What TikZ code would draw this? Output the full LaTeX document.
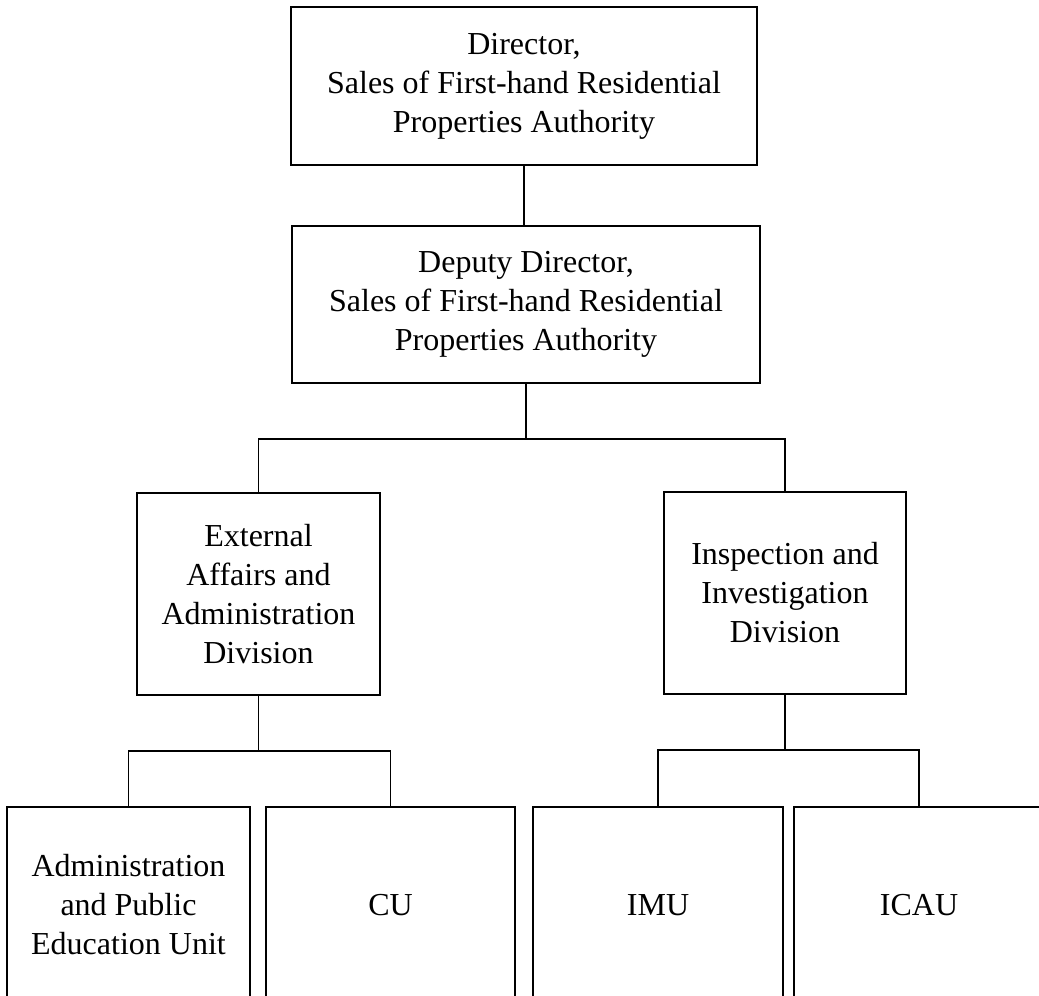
\documentclass[tikz,border=0pt]{standalone}
\usepackage{fontspec}
\setmainfont{Liberation Serif}
\begin{document}
\begin{tikzpicture}[x=1pt,y=-1pt,
  box/.style={draw=black, line width=1.6pt, rectangle, align=center, inner sep=0pt,
    font=\fontsize{32}{39}\selectfont},
  link/.style={draw=black, line width=1.6pt}]
\useasboundingbox (0,0) rectangle (1039,996);
\clip (0,0) rectangle (1039,996);
\fill[white] (0,0) rectangle (1039,996);
\node[box, minimum width=466pt, minimum height=158pt] (dir) at (524,86)
  {Director,\\Sales of First-hand Residential\\Properties Authority};
\node[box, minimum width=468pt, minimum height=157pt] (dep) at (526,304.5)
  {Deputy Director,\\Sales of First-hand Residential\\Properties Authority};
\node[box, minimum width=243pt, minimum height=202pt] (ext) at (258.5,594)
  {External\\Affairs and\\Administration\\Division};
\node[box, minimum width=242pt, minimum height=202pt] (insp) at (785,593)
  {Inspection and\\Investigation\\Division};
\node[box, minimum width=243pt, minimum height=196pt] (adm) at (128.5,905)
  {Administration\\and Public\\Education Unit};
\node[box, minimum width=249pt, minimum height=196pt] (cu) at (390.5,905) {CU};
\node[box, minimum width=250pt, minimum height=196pt] (imu) at (658,905) {IMU};
\node[box, minimum width=250pt, minimum height=196pt] (icau) at (919,905) {ICAU};
\coordinate (j1) at (526,439);
\coordinate (j2) at (258.5,751);
\coordinate (j3) at (785,750);
\draw[link] (dir.south) -- (dir.south |- dep.north);
\draw[link] (dep.south) -- (j1);
\draw[link] (ext.north) |- (j1) -| (insp.north);
\draw[link] (ext.south) -- (j2);
\draw[link] (adm.north) |- (j2) -| (cu.north);
\draw[link] (insp.south) -- (j3);
\draw[link] (imu.north) |- (j3) -| (icau.north);
\end{tikzpicture}
\end{document}
